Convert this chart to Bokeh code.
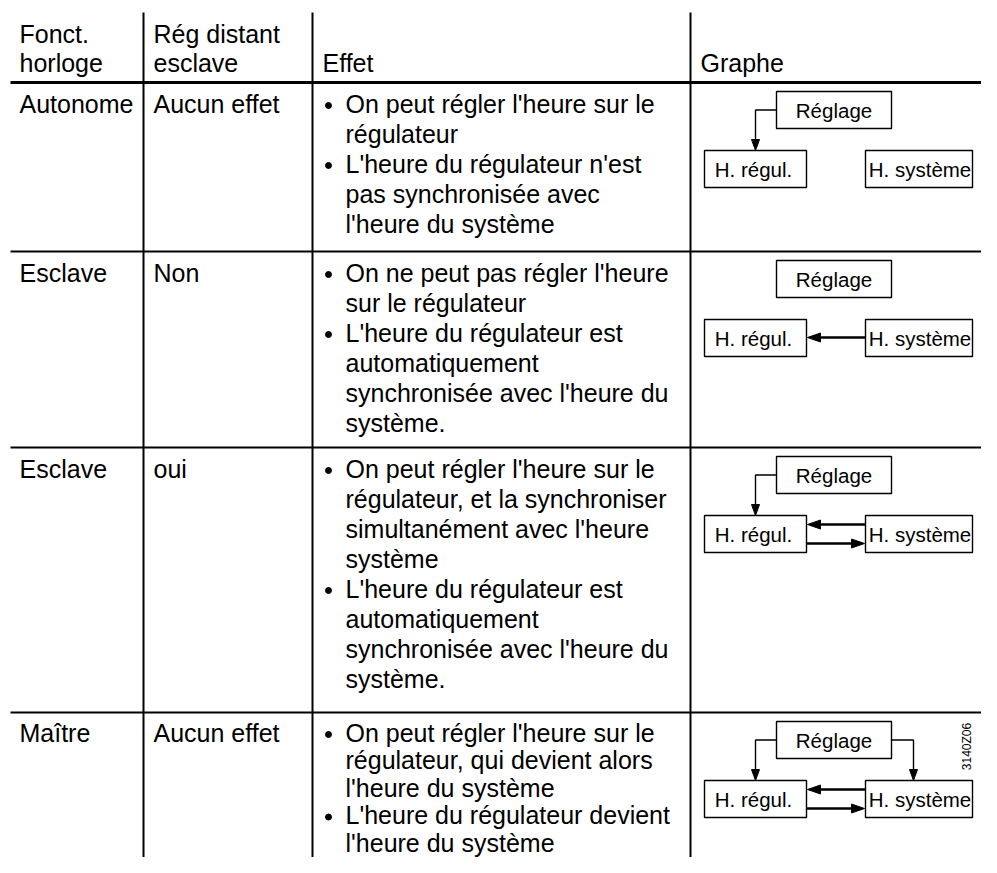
import math
from bokeh.plotting import figure
from bokeh.models import Range1d
from bokeh.core.properties import value
from bokeh.embed import file_html
from bokeh.resources import INLINE

# ---------------- data ----------------
header_col1 = ["Fonct.", "horloge"]
header_col2 = ["Rég distant", "esclave"]
header_col3 = ["Effet"]
header_col4 = ["Graphe"]

fonction_horloge = ["Autonome", "Esclave", "Esclave", "Maître"]
reg_distant_esclave = ["Aucun effet", "Non", "oui", "Aucun effet"]

effets = [
    [["On peut régler l'heure sur le", "régulateur"],
     ["L'heure du régulateur n'est", "pas synchronisée avec", "l'heure du système"]],
    [["On ne peut pas régler l'heure", "sur le régulateur"],
     ["L'heure du régulateur est", "automatiquement", "synchronisée avec l'heure du", "système."]],
    [["On peut régler l'heure sur le", "régulateur, et la synchroniser",
      "simultanément avec l'heure", "système"],
     ["L'heure du régulateur est", "automatiquement", "synchronisée avec l'heure du", "système."]],
    [["On peut régler l'heure sur le", "régulateur, qui devient alors", "l'heure du système"],
     ["L'heure du régulateur devient", "l'heure du système"]],
]

node_reglage = "Réglage"
node_regul = "H. régul."
node_systeme = "H. système"
link_reglage_regul = [True, False, True, True]
link_reglage_systeme = [False, False, False, True]
link_systeme_regul = [False, True, True, True]
link_regul_systeme = [False, False, True, True]
figure_code = "3140Z06"

# ---------------- layout ----------------
W, H = 981, 857
row_tops = [82, 251, 447, 712]
row_first_off = [30, 30, 30, 29]
row_steps = [30, 30, 30, 27.5]
col_lines = [143, 312, 690]
col_text_x = [19, 153, 345, 700]
bullet_x = 328
header_base = [42, 71]
TEXT_DY = -9          # compensation: svg alphabetic text renders lower
FONT = value("Liberation Sans")
BODY = value("25px")
DIAG = value("20.5px")

p = figure(width=W, height=H, x_range=Range1d(0, W), y_range=Range1d(H, 0),
           output_backend="svg", toolbar_location=None,
           x_axis_location=None, y_axis_location=None, min_border=0)
p.grid.visible = False
p.outline_line_color = None
p.background_fill_color = "white"
p.border_fill_color = "white"

# table lines
p.segment(x0=[10], y0=[row_tops[0]], x1=[W + 20], y1=[row_tops[0]], line_color="black", line_width=3)
p.segment(x0=[10] * 3, y0=row_tops[1:], x1=[W + 20] * 3, y1=row_tops[1:], line_color="black", line_width=2)
p.segment(x0=col_lines, y0=[12] * 3, x1=col_lines, y1=[H + 20] * 3, line_color="black", line_width=2)

def txt(xs, ys, texts, size=BODY, align="left", baseline="alphabetic", angle=0.0, dy=TEXT_DY):
    p.text(x=xs, y=[y + dy for y in ys], text=texts, text_font=FONT, text_font_size=size,
           text_align=align, text_baseline=baseline, text_color="black", angle=angle)

# headers
txt([col_text_x[0]] * 2, header_base, header_col1)
txt([col_text_x[1]] * 2, header_base, header_col2)
txt([col_text_x[2] - 23], [header_base[1]], header_col3)
txt([col_text_x[3]], [header_base[1]], header_col4)

# rows
for i, top in enumerate(row_tops):
    b0 = top + row_first_off[i]
    step = row_steps[i]
    txt([col_text_x[0]], [b0], [fonction_horloge[i]])
    txt([col_text_x[1]], [b0], [reg_distant_esclave[i]])
    k = 0
    bxs, bys, lxs, lys, lts = [], [], [], [], []
    for bullet in effets[i]:
        bxs.append(bullet_x)
        bys.append(b0 + k * step - 7)
        for line in bullet:
            lxs.append(col_text_x[2]); lys.append(b0 + k * step); lts.append(line)
            k += 1
    txt(lxs, lys, lts)
    p.scatter(x=bxs, y=bys, marker="circle", size=6, fill_color="black", line_color="black")

# diagrams
RG = (776, 891, 9, 46)      # left, right, top-offset, bottom-offset
HR = (704, 806, 68, 105)
HS = (865, 972, 68, 105)

def arrow_head(xe, ye, dx, dy, length, half):
    bx, by = xe - dx * length, ye - dy * length
    px, py = -dy, dx
    return [xe, bx + px * half, bx - px * half], [ye, by + py * half, by - py * half]

for i, top in enumerate(row_tops):
    lefts, rights, tops_, bots = [], [], [], []
    for bx in (RG, HR, HS):
        lefts.append(bx[0]); rights.append(bx[1]); tops_.append(top + bx[2]); bots.append(top + bx[3])
    p.quad(left=lefts, right=rights, top=tops_, bottom=bots, fill_color="white",
           line_color="black", line_width=1.4)
    cy_r = top + (RG[2] + RG[3]) / 2
    cy_h = top + (HR[2] + HR[3]) / 2
    txt([(RG[0] + RG[1]) / 2], [cy_r], [node_reglage], size=DIAG, align="center", baseline="middle", dy=0)
    txt([(HR[0] + HR[1]) / 2 - 2], [cy_h], [node_regul], size=DIAG, align="center", baseline="middle", dy=0)
    txt([(HS[0] + HS[1]) / 2 + 1], [cy_h], [node_systeme], size=DIAG, align="center", baseline="middle", dy=0)

    hx, hy = [], []
    if link_reglage_regul[i]:
        xs = [RG[0], 755, 755]; ys = [cy_r, cy_r, top + HR[2] - 10]
        p.line(x=xs, y=ys, line_color="black", line_width=1.4)
        a, b = arrow_head(755, top + HR[2], 0, 1, 11, 4); hx.append(a); hy.append(b)
    if link_reglage_systeme[i]:
        xs = [RG[1], 913, 913]; ys = [cy_r, cy_r, top + HS[2] - 10]
        p.line(x=xs, y=ys, line_color="black", line_width=1.4)
        a, b = arrow_head(913, top + HS[2], 0, 1, 11, 4); hx.append(a); hy.append(b)
    both = link_systeme_regul[i] and link_regul_systeme[i]
    if link_systeme_regul[i]:
        y = top + (77 if both else 86)
        p.line(x=[HS[0], HR[1] + 12], y=[y, y], line_color="black", line_width=2.5)
        a, b = arrow_head(HR[1] + 1, y, -1, 0, 13, 4.5); hx.append(a); hy.append(b)
    if link_regul_systeme[i]:
        y = top + 96
        p.line(x=[HR[1], HS[0] - 12], y=[y, y], line_color="black", line_width=2.5)
        a, b = arrow_head(HS[0] - 1, y, 1, 0, 13, 4.5); hx.append(a); hy.append(b)
    if hx:
        p.patches(xs=hx, ys=hy, fill_color="black", line_color="black", line_width=1)

txt([966], [row_tops[3] + 34], [figure_code], size=value("12px"), align="center",
    baseline="middle", angle=math.pi / 2, dy=0)

open("out.html", "w").write(file_html(p, INLINE))
